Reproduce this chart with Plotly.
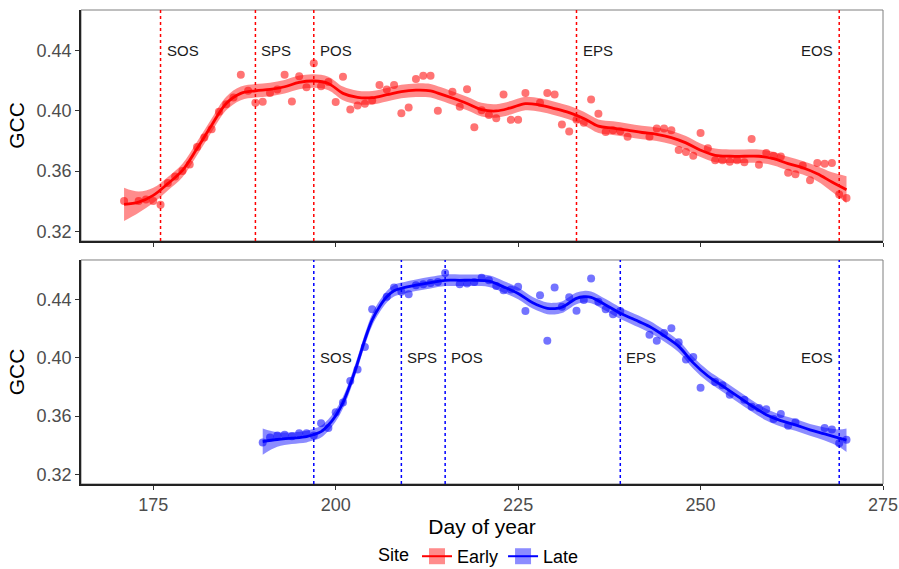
import plotly.graph_objects as go

# ---------------- data ----------------
early_day = [171,173,174,175,176,177,178,179,180,181,182,183,184,185,186,187,188,189,190,191,
             192,193,194,195,196,197,198,199,200,201,202,203,204,205,206,207,208,209,210,211,
             212,213,214,216,217,218,219,220,221,222,223,224,225,226,228,229,230,231,232,233,
             234,235,236,237,238,239,240,243,244,245,246,247,248,249,250,251,252,253,254,255,
             256,257,258,259,260,261,262,263,264,265,266,267,268,269,270]
early_gcc = [0.340,0.340,0.341,0.340,0.3376,0.352,0.3564,0.360,0.3644,0.376,0.3822,0.3878,0.3993,0.4044,0.4089,0.424,0.4133,0.4053,0.406,0.4118,
             0.4142,0.424,0.4062,0.4229,0.4156,0.4316,0.4164,0.4191,0.4058,0.4227,0.4009,0.4036,0.4047,0.4069,0.4171,0.4142,0.4171,0.3984,0.4022,0.4211,
             0.4233,0.4233,0.400,0.4127,0.4027,0.4144,0.3891,0.4004,0.3973,0.3951,0.4109,0.394,0.394,0.4118,0.4053,0.4118,0.4109,0.3909,0.3862,0.394,
             0.392,0.4076,0.398,0.386,0.3871,0.3864,0.3827,0.3827,0.3882,0.3882,0.3871,0.374,0.3727,0.3702,0.3853,0.3751,0.3671,0.3671,0.3662,0.3671,
             0.3658,0.3813,0.3642,0.372,0.3702,0.3696,0.3589,0.3578,0.3636,0.3538,0.3653,0.3649,0.3653,0.3444,0.342]

early_fit_day = [171,173,175,177,179,181,183,185,187,189,191,193,195,197,199,201,203,205,207,209,
                 211,213,214,216,218,220,222,224,226,228,230,232,234,236,238,240,242,244,246,248,
                 250,252,254,256,258,260,262,264,266,268,270]
early_fit = [0.3378,0.3393,0.3438,0.3516,0.3604,0.3749,0.3904,0.4049,0.4116,0.4133,0.4142,0.416,0.4189,0.4198,0.4182,0.4116,0.4089,0.4087,0.4107,0.4128,
             0.4137,0.4133,0.4118,0.4085,0.4049,0.4008,0.3999,0.402,0.4048,0.4038,0.4015,0.3988,0.3949,0.3898,0.3885,0.3871,0.3856,0.3844,0.3822,0.3787,
             0.3738,0.3704,0.3698,0.3698,0.3698,0.3682,0.3649,0.3622,0.3582,0.3527,0.3476]
early_ci = [0.011,0.007,0.005,0.0045,0.0045,0.0045,0.0045,0.0045,0.0045,0.0045,0.0045,0.0045,0.0045,0.0045,0.0045,0.0045,0.0045,0.0045,0.0045,0.0045,
            0.0045,0.0045,0.0045,0.0045,0.0045,0.0045,0.0045,0.0045,0.0045,0.0045,0.0045,0.0045,0.0045,0.0045,0.0045,0.0045,0.0045,0.0045,0.0045,0.0045,
            0.0045,0.0045,0.0045,0.0045,0.0045,0.0045,0.0045,0.0045,0.005,0.0065,0.009]

late_day = [190,191,192,193,194,195,196,197,198,199,200,201,202,203,204,205,207,208,209,210,
            211,212,213,214,215,217,218,219,220,221,222,223,224,225,226,228,229,230,231,232,
            233,234,235,236,237,238,239,243,244,245,246,247,248,249,250,252,253,254,256,257,
            258,259,260,261,262,263,267,268,269,270]
late_gcc = [0.3419,0.3453,0.3467,0.3472,0.3463,0.3483,0.3483,0.3467,0.3551,0.3519,0.3626,0.3693,0.3841,0.392,0.4074,0.4332,0.4418,0.4482,0.4452,0.4436,
            0.4497,0.4504,0.4513,0.452,0.4581,0.4504,0.4509,0.452,0.4549,0.4531,0.4491,0.4463,0.4468,0.4486,0.4321,0.4429,0.4117,0.4482,0.435,0.4414,
            0.4323,0.4395,0.4543,0.4384,0.4332,0.4298,0.4321,0.4158,0.4117,0.4169,0.4203,0.4106,0.3988,0.4006,0.3795,0.3834,0.3811,0.3746,0.3712,0.3664,
            0.3655,0.3648,0.358,0.3614,0.3535,0.3558,0.3519,0.3508,0.3415,0.3438]

late_fit_day = [190,192,194,196,197,198,199,200,201,202,203,204,205,206,207,208,209,211,213,215,
                217,219,221,223,225,227,229,230,231,233,234,235,237,239,241,243,245,247,249,251,
                253,255,257,259,261,263,265,267,269,270]
late_fit = [0.3426,0.344,0.3449,0.346,0.3474,0.3494,0.3539,0.3603,0.3693,0.3818,0.3965,0.4124,0.426,0.435,0.4418,0.4459,0.4475,0.4497,0.4515,0.4531,
            0.4531,0.4531,0.4525,0.4486,0.4441,0.4377,0.4339,0.4337,0.4346,0.4407,0.4418,0.4414,0.4362,0.4305,0.426,0.4214,0.4151,0.4078,0.3965,0.3875,
            0.3807,0.3739,0.3671,0.361,0.3569,0.354,0.3506,0.3478,0.3449,0.3435]
late_ci = [0.009,0.005,0.004,0.004,0.004,0.004,0.004,0.004,0.004,0.004,0.004,0.004,0.004,0.004,0.004,0.004,0.004,0.004,0.004,0.004,
           0.004,0.004,0.004,0.004,0.004,0.004,0.004,0.004,0.004,0.004,0.004,0.004,0.004,0.004,0.004,0.004,0.004,0.004,0.004,0.004,
           0.004,0.004,0.004,0.004,0.004,0.004,0.004,0.0045,0.006,0.008]

phase_names = ["SOS", "SPS", "POS", "EPS", "EOS"]
early_phase_day = [176, 189, 197, 233, 269]
late_phase_day = [197, 209, 215, 239, 269]
label_y = {"Early": 0.44, "Late": 0.40}

x_ticks = [175, 200, 225, 250, 275]
y_ticks = [0.32, 0.36, 0.40, 0.44]

# ---------------- figure ----------------
FONT = "Liberation Sans, Arial, sans-serif"
fig = go.Figure()

sites = [
    ("Early", early_day, early_gcc, early_fit_day, early_fit, early_ci, early_phase_day,
     "rgb(255,0,0)", "rgba(255,0,0,0.45)", "rgba(255,0,0,0.55)", "x", "y"),
    ("Late", late_day, late_gcc, late_fit_day, late_fit, late_ci, late_phase_day,
     "rgb(0,0,255)", "rgba(0,0,255,0.45)", "rgba(0,0,255,0.55)", "x2", "y2"),
]

annotations = []
shapes = []
for (name, d, g, fd, fv, ci, ph, col, fillc, ptc, xa, ya) in sites:
    upper = [v + c for v, c in zip(fv, ci)]
    lower = [v - c for v, c in zip(fv, ci)]
    fig.add_trace(go.Scatter(x=fd, y=upper, mode="lines", line=dict(width=0, shape="spline", color=fillc),
                             showlegend=False, hoverinfo="skip", xaxis=xa, yaxis=ya))
    fig.add_trace(go.Scatter(x=fd, y=lower, mode="lines", line=dict(width=0, shape="spline", color=fillc),
                             fill="tonexty", fillcolor=fillc, showlegend=False, hoverinfo="skip",
                             xaxis=xa, yaxis=ya))
    fig.add_trace(go.Scatter(x=d, y=g, mode="markers", marker=dict(size=8, color=ptc),
                             showlegend=False, xaxis=xa, yaxis=ya))
    fig.add_trace(go.Scatter(x=fd, y=fv, mode="lines", line=dict(width=2.8, color=col, shape="spline"),
                             showlegend=False, xaxis=xa, yaxis=ya))
    # legend-only entry
    fig.add_trace(go.Scatter(x=[None], y=[None], mode="lines+markers", name=name,
                             line=dict(color=col, width=2),
                             marker=dict(symbol="square", size=16, color=fillc),
                             xaxis=xa, yaxis=ya))
    yref_dom = ("y" if ya == "y" else "y2") + " domain"
    for pname, pd in zip(phase_names, ph):
        shapes.append(dict(type="line", xref=xa, yref=yref_dom, x0=pd, x1=pd, y0=0, y1=1,
                           line=dict(color=col, width=1.5, dash="dot")))
        right = pname == "EOS"
        annotations.append(dict(x=pd, y=label_y[name], xref=xa, yref=ya, text=pname, showarrow=False,
                                xanchor="right" if right else "left", yanchor="middle",
                                xshift=-4 if right else 4,
                                font=dict(family=FONT, size=15, color="#1a1a1a")))

for yd in ["y domain", "y2 domain"]:
    xr = "x domain" if yd == "y domain" else "x2 domain"
    shapes.append(dict(type="rect", xref=xr, yref=yd, x0=0, x1=1, y0=0, y1=1,
                       line=dict(color="#7f7f7f", width=1), layer="below"))

def axis_common():
    return dict(showgrid=False, zeroline=False, showline=True, linecolor="#222222", linewidth=1.6,
                ticks="outside", ticklen=4, tickcolor="#333333", tickwidth=1.2, automargin=False,
                ticklabeloverflow="allow",
                tickfont=dict(family=FONT, size=18, color="#4d4d4d"))

fig.update_layout(
    width=899, height=569,
    margin=dict(l=81, r=16, t=10, b=85, autoexpand=False),
    paper_bgcolor="white", plot_bgcolor="white",
    font=dict(family=FONT),
    xaxis=dict(domain=[0, 1], anchor="y", range=[165.1, 275], tickvals=x_ticks,
               showticklabels=False, **axis_common()),
    xaxis2=dict(domain=[0, 1], anchor="y2", range=[165.1, 275], tickvals=x_ticks,
                title=dict(text="Day of year", font=dict(family=FONT, size=21, color="black"), standoff=4),
                **axis_common()),
    yaxis=dict(domain=[0.5127, 1], anchor="x", range=[0.3135, 0.467], tickvals=y_ticks, tickformat=".2f",
               title=dict(text="GCC", font=dict(family=FONT, size=21, color="black"), standoff=6),
               **axis_common()),
    yaxis2=dict(domain=[0, 0.4726], anchor="x2", range=[0.3135, 0.467], tickvals=y_ticks, tickformat=".2f",
                title=dict(text="GCC", font=dict(family=FONT, size=21, color="black"), standoff=6),
                **axis_common()),
    legend=dict(orientation="h", x=0.4975, xanchor="center", y=-0.153, yanchor="middle",
                traceorder="normal",
                title=dict(text="Site", font=dict(family=FONT, size=18, color="black"), side="left"),
                font=dict(family=FONT, size=18, color="black"), itemwidth=30),
    annotations=annotations,
    shapes=shapes,
)

fig.write_html("out.html", config={"displayModeBar": False},
               post_script="document.body.style.margin='0';document.body.style.overflow='hidden';")
